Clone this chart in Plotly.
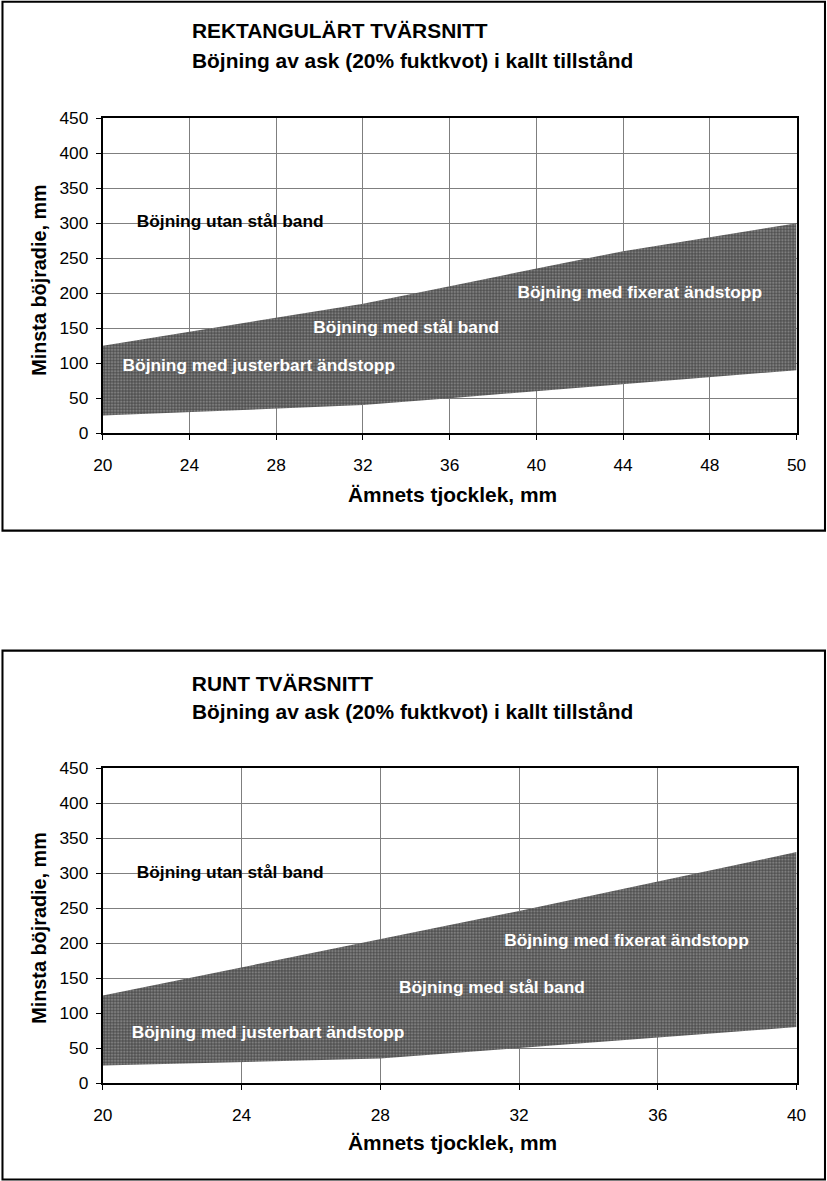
import plotly.graph_objects as go

# ---- data ----
rect_thickness = ["20", "24", "28", "32", "36", "40", "44", "48", "50"]
rect_lower = [25, 30, 35, 40, 50, 60, 70, 80, 90]
rect_upper = [125, 145, 165, 185, 210, 235, 260, 280, 300]

round_thickness = [20, 24, 28, 32, 36, 40]
round_lower = [25, 30, 35, 50, 65, 80]
round_upper = [125, 165, 205, 246, 288, 330]

y_ticks = [0, 50, 100, 150, 200, 250, 300, 350, 400, 450]

W, H = 827, 1181
FONT = "Liberation Sans, Arial, sans-serif"

def px(xp):
    return xp / W

def py(yp):
    return 1 - yp / H

band_pattern = dict(shape="+", size=3, solidity=0.4, fgcolor="#3e3e3e", bgcolor="#7e7e7e", fillmode="replace")

fig = go.Figure()

# top chart
fig.add_trace(go.Scatter(x=rect_thickness, y=rect_lower, mode="lines", line=dict(width=0),
                         showlegend=False, hoverinfo="skip", xaxis="x", yaxis="y"))
fig.add_trace(go.Scatter(x=rect_thickness, y=rect_upper, mode="lines", line=dict(width=0),
                         fill="tonexty", fillcolor="#666666", fillpattern=band_pattern,
                         showlegend=False, hoverinfo="skip", xaxis="x", yaxis="y"))
# bottom chart
fig.add_trace(go.Scatter(x=round_thickness, y=round_lower, mode="lines", line=dict(width=0),
                         showlegend=False, hoverinfo="skip", xaxis="x2", yaxis="y2"))
fig.add_trace(go.Scatter(x=round_thickness, y=round_upper, mode="lines", line=dict(width=0),
                         fill="tonexty", fillcolor="#666666", fillpattern=band_pattern,
                         showlegend=False, hoverinfo="skip", xaxis="x2", yaxis="y2"))

xdom = [px(102), px(797)]
common_axis = dict(showline=True, linecolor="black", linewidth=1.5, mirror=True,
                   showgrid=True, gridcolor="#7f7f7f", gridwidth=1,
                   ticks="outside", ticklen=5, tickcolor="black",
                   tickfont=dict(family=FONT, size=17, color="black"), zeroline=False)

fig.update_layout(
    width=W, height=H,
    margin=dict(l=0, r=0, t=0, b=0),
    paper_bgcolor="white", plot_bgcolor="white",
    xaxis=dict(domain=xdom, anchor="y", type="category", range=[0, len(rect_thickness) - 1],
               ticklabelstandoff=10, **common_axis),
    yaxis=dict(domain=[py(433), py(118)], anchor="x", range=[0, 450], tickvals=y_ticks,
               ticklabelstandoff=4, **common_axis),
    xaxis2=dict(domain=xdom, anchor="y2", range=[20, 40], tickvals=round_thickness,
                ticklabelstandoff=10, **common_axis),
    yaxis2=dict(domain=[py(1083), py(768)], anchor="x2", range=[0, 450], tickvals=y_ticks,
                ticklabelstandoff=4, **common_axis),
)

ann = []
def title_block(y1, y2, t1):
    ann.append(dict(xref="paper", yref="paper", x=px(189), y=py(y1), xanchor="left", yanchor="middle",
                    text="<b>%s</b>" % t1, showarrow=False,
                    font=dict(family=FONT, size=20.5, color="black")))
    ann.append(dict(xref="paper", yref="paper", x=px(189), y=py(y2), xanchor="left", yanchor="middle",
                    text="<b>Böjning av ask (20% fuktkvot) i kallt tillstånd</b>", showarrow=False,
                    font=dict(family=FONT, size=20.5, color="black")))

title_block(30, 60, "REKTANGULÄRT TVÄRSNITT")
title_block(683, 711, "RUNT TVÄRSNITT")

for yx, yy in [(494, 280), (1142, 928)]:
    ann.append(dict(xref="paper", yref="paper", x=px(452), y=py(yx), xanchor="center", yanchor="middle",
                    text="<b>Ämnets tjocklek, mm</b>", showarrow=False,
                    font=dict(family=FONT, size=20.5, color="black")))
    ann.append(dict(xref="paper", yref="paper", x=px(38), y=py(yy), xanchor="center", yanchor="middle",
                    text="<b>Minsta böjradie, mm</b>", showarrow=False, textangle=-90,
                    font=dict(family=FONT, size=19.5, color="black")))

def label(xr, yr, x, y, text, color):
    ann.append(dict(xref=xr, yref=yr, x=x, y=y, xanchor="center", yanchor="middle",
                    text="<b>%s</b>" % text, showarrow=False,
                    font=dict(family=FONT, size=17, color=color)))

label("x", "y", 1.47, 303, "Böjning utan stål band", "black")
label("x", "y", 3.5, 150, "Böjning med stål band", "white")
label("x", "y", 6.19, 201, "Böjning med fixerat ändstopp", "white")
label("x", "y", 1.8, 96, "Böjning med justerbart ändstopp", "white")

label("x2", "y2", 23.68, 301, "Böjning utan stål band", "black")
label("x2", "y2", 31.2, 136, "Böjning med stål band", "white")
label("x2", "y2", 35.1, 204, "Böjning med fixerat ändstopp", "white")
label("x2", "y2", 24.75, 73, "Böjning med justerbart ändstopp", "white")

fig.update_layout(annotations=ann)

shapes = [
    dict(type="rect", xref="paper", yref="paper", x0=px(1.5), x1=px(825.5), y0=py(530.5), y1=py(1.5),
         line=dict(color="black", width=2), fillcolor="rgba(0,0,0,0)", layer="above"),
    dict(type="rect", xref="paper", yref="paper", x0=px(1.5), x1=px(825.5), y0=py(1179.5), y1=py(650.5),
         line=dict(color="black", width=2), fillcolor="rgba(0,0,0,0)", layer="above"),
]
fig.update_layout(shapes=shapes)

fig.write_html(
    "out.html",
    config={"displayModeBar": False},
    post_script=(
        "document.documentElement.style.margin='0';document.documentElement.style.overflow='hidden';"
        "document.body.style.margin='0';document.body.style.padding='0';document.body.style.overflow='hidden';"
        "var d=document.getElementById('{plot_id}');"
        "d.style.transformOrigin='0 0';"
        "d.style.transform='translate(-8.2px,-9.0px) scale(1.0204,1.0163)';"
    ),
)
